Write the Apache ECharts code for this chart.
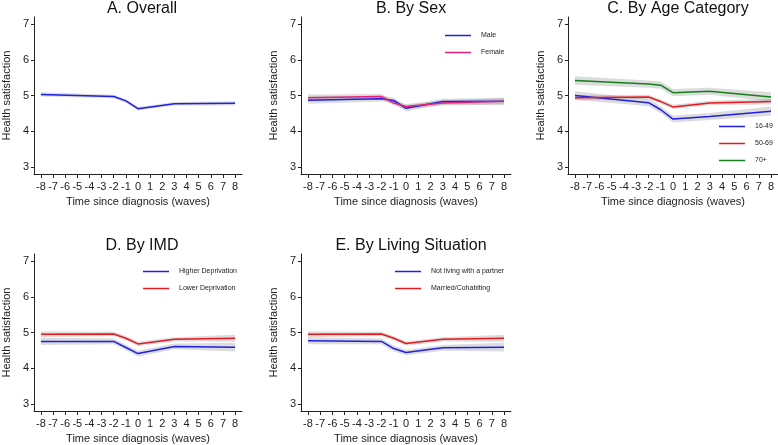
<!DOCTYPE html>
<html lang="en">

<head>
    <meta charset="UTF-8">
    <title>Health satisfaction</title>
    <style>
        html, body { margin: 0; padding: 0; background: #fff; }
    </style>
</head>

<body>
    <div id="main" style="width: 778px;height:445px;"></div>

    <script src="https://cdn.jsdelivr.net/npm/echarts@6/dist/echarts.min.js"></script>
    <script>
        // waves at which the line bends
        const waves = [-8, -2, -1, 0, 3, 8];
        const xTicks = [-8, -7, -6, -5, -4, -3, -2, -1, 0, 1, 2, 3, 4, 5, 6, 7, 8];
        const yTicks = [3, 4, 5, 6, 7];

        // A. Overall
        const overall = [5.03, 4.97, 4.85, 4.63, 4.77, 4.78];
        const overallCi = [0.06, 0.05, 0.05, 0.05, 0.05, 0.06];
        // B. By Sex
        const male = [4.87, 4.91, 4.86, 4.64, 4.83, 4.84];
        const maleCi = [0.1, 0.08, 0.08, 0.08, 0.08, 0.1];
        const female = [4.94, 4.97, 4.79, 4.69, 4.79, 4.84];
        const femaleCi = [0.09, 0.07, 0.07, 0.07, 0.07, 0.09];
        // C. By Age Category
        const age1649 = [5.0, 4.8, 4.6, 4.34, 4.41, 4.56];
        const age1649Ci = [0.12, 0.1, 0.1, 0.1, 0.1, 0.13];
        const age5069 = [4.94, 4.96, 4.83, 4.68, 4.79, 4.83];
        const age5069Ci = [0.07, 0.06, 0.06, 0.06, 0.06, 0.08];
        const age70 = [5.42, 5.32, 5.29, 5.08, 5.12, 4.96];
        const age70Ci = [0.12, 0.1, 0.1, 0.1, 0.1, 0.13];
        // D. By IMD
        const higherDep = [4.75, 4.75, 4.58, 4.41, 4.61, 4.59];
        const higherDepCi = [0.1, 0.08, 0.08, 0.08, 0.08, 0.12];
        const lowerDep = [4.95, 4.96, 4.84, 4.68, 4.81, 4.84];
        const lowerDepCi = [0.08, 0.06, 0.06, 0.06, 0.06, 0.1];
        // E. By Living Situation
        const notPartner = [4.77, 4.75, 4.55, 4.44, 4.57, 4.59];
        const notPartnerCi = [0.1, 0.08, 0.08, 0.08, 0.08, 0.12];
        const married = [4.95, 4.96, 4.84, 4.69, 4.81, 4.84];
        const marriedCi = [0.08, 0.06, 0.06, 0.06, 0.06, 0.1];

        const font = 'Liberation Sans';
        const blue = '#1f1fe6';
        const red = '#e8181e';
        const green = '#13801a';
        const pink = '#e6207e';

        const panels = [
            { title: 'A. Overall', left: 32, top: 17, lines: [['Overall', overall, overallCi, blue]] },
            { title: 'B. By Sex', left: 301, top: 17, lines: [['Male', male, maleCi, blue], ['Female', female, femaleCi, pink]] },
            { title: 'C. By Age Category', left: 568, top: 17, lines: [['16-49', age1649, age1649Ci, blue], ['50-69', age5069, age5069Ci, red], ['70+', age70, age70Ci, green]] },
            { title: 'D. By IMD', left: 32, top: 254, lines: [['Higher Deprivation', higherDep, higherDepCi, blue], ['Lower Deprivation', lowerDep, lowerDepCi, red]] },
            { title: 'E. By Living Situation', left: 301, top: 254, lines: [['Not living with a partner', notPartner, notPartnerCi, blue], ['Married/Cohabiting', married, marriedCi, red]] },
        ];

        const legendPos = [
            null,
            { left: 440, top: 27 },
            { left: 714, top: 118 },
            { left: 138, top: 263 },
            { left: 390, top: 263 },
        ];

        // grey band drawn one segment at a time: [x0, lo0, hi0, x1, lo1, hi1]
        function renderBand(params, api) {
            const a = api.coord([api.value(0), api.value(1)]);
            const b = api.coord([api.value(0), api.value(2)]);
            const c = api.coord([api.value(3), api.value(5)]);
            const d = api.coord([api.value(3), api.value(4)]);
            return {
                type: 'polygon',
                shape: { points: [a, b, c, d] },
                style: { fill: 'rgba(140,140,140,0.3)', stroke: null },
                silent: true
            };
        }

        const grid = [], xAxis = [], yAxis = [], title = [], series = [], legend = [];
        const W = 210, H = 157;

        panels.forEach(function (p, i) {
            grid.push({ left: p.left, top: p.top, width: W, height: H });
            title.push({
                text: p.title, left: p.left + W / 2, top: p.top - 21, textAlign: 'center',
                textStyle: { fontFamily: font, fontSize: 16, fontWeight: 'normal', color: '#111' }
            });
            xAxis.push({
                gridIndex: i, type: 'value', min: -8.57, max: 8.57,
                name: 'Time since diagnosis (waves)', nameLocation: 'middle', nameGap: 22,
                nameTextStyle: { fontFamily: font, fontSize: 11, color: '#222' },
                axisLine: { onZero: false, lineStyle: { color: '#222', width: 1 } },
                axisTick: { customValues: xTicks, length: 4, lineStyle: { color: '#222' } },
                axisLabel: { customValues: xTicks, margin: 7, fontFamily: font, fontSize: 11, color: '#222' },
                splitLine: { show: false }
            });
            yAxis.push({
                gridIndex: i, type: 'value', min: 2.8, max: 7.2,
                name: 'Health satisfaction', nameLocation: 'middle', nameGap: 22,
                nameTextStyle: { fontFamily: font, fontSize: 11, color: '#222' },
                axisLine: { show: true, onZero: false, lineStyle: { color: '#222', width: 1 } },
                axisTick: { show: true, customValues: yTicks, length: 3, lineStyle: { color: '#222' } },
                axisLabel: { customValues: yTicks, margin: 5, fontFamily: font, fontSize: 11, color: '#222' },
                splitLine: { show: false }
            });

            // confidence bands
            p.lines.forEach(function (l, j) {
                const segs = [];
                for (let k = 0; k < waves.length - 1; k++) {
                    segs.push([waves[k], l[1][k] - l[2][k], l[1][k] + l[2][k],
                        waves[k + 1], l[1][k + 1] - l[2][k + 1], l[1][k + 1] + l[2][k + 1]]);
                }
                series.push({
                    name: 'band' + i + '_' + j, type: 'custom', xAxisIndex: i, yAxisIndex: i,
                    renderItem: renderBand, data: segs, encode: { x: [0, 3], y: [1, 2, 4, 5] },
                    silent: true, z: 1
                });
            });
            p.lines.forEach(function (l) {
                series.push({
                    name: l[0], type: 'line', xAxisIndex: i, yAxisIndex: i,
                    data: waves.map((w, k) => [w, l[1][k]]),
                    symbol: 'none', color: l[3], lineStyle: { width: 1.5, color: l[3] }, z: 3
                });
            });

            if (legendPos[i]) {
                legend.push({
                    left: legendPos[i].left, top: legendPos[i].top, orient: 'vertical',
                    data: p.lines.map(l => l[0]),
                    icon: 'rect', itemWidth: 26, itemHeight: 1.5, itemGap: 10,
                    selectedMode: false,
                    textStyle: { fontFamily: font, fontSize: 7, color: '#222', padding: [0, 0, 0, 5] }
                });
            }
        });

        const chart = echarts.init(document.getElementById('main'));
        chart.setOption({
            animation: false,
            backgroundColor: '#fff',
            title: title,
            legend: legend,
            grid: grid,
            xAxis: xAxis,
            yAxis: yAxis,
            series: series
        });
    </script>
</body>

</html>
